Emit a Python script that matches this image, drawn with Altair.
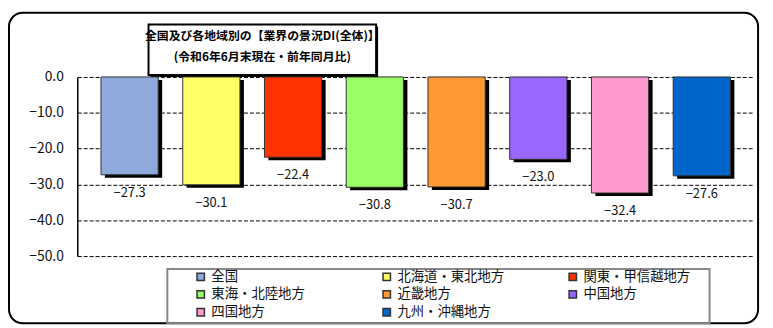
import altair as alt
import pandas as pd

regions = ["全国", "北海道・東北地方", "関東・甲信越地方", "東海・北陸地方",
           "近畿地方", "中国地方", "四国地方", "九州・沖縄地方"]
values = [-27.3, -30.1, -22.4, -30.8, -30.7, -23.0, -32.4, -27.6]
colors = ["#8EA9DB", "#FFFF66", "#FF3300", "#99FF66",
          "#FF9933", "#9966FF", "#FF99CC", "#0066CC"]
y_ticks = [0, -10, -20, -30, -40, -50]
title_lines = ["全国及び各地域別の【業界の景況DI(全体)】", "(令和6年6月末現在・前年同月比)"]

FONT = "Noto Sans CJK JP"
df = pd.DataFrame({"region": regions, "value": values})
one = pd.DataFrame({"k": [0]})

xenc = alt.X("region:N", sort=regions,
             scale=alt.Scale(paddingInner=0.3, paddingOuter=0.29), axis=None)
yenc = alt.Y("value:Q", scale=alt.Scale(domain=[-50, 0], nice=False),
             axis=alt.Axis(values=y_ticks, format=".1f", grid=True, gridDash=[4, 2],
                           gridColor="#000", gridWidth=1, ticks=False, domain=True,
                           domainColor="#000", domainWidth=1.5, labelFontSize=14,
                           labelColor="#111", labelPadding=14, labelFont=FONT, title=None))

outer = alt.Chart(one).mark_rect(fillOpacity=0, stroke="#000", strokeWidth=2,
                                 cornerRadius=14).encode(
    x=alt.value(-69), x2=alt.value(688), y=alt.value(-65), y2=alt.value(249))

title_shadow = alt.Chart(one).mark_rect(color="#000").encode(
    x=alt.value(74), x2=alt.value(304), y=alt.value(-51), y2=alt.value(0))
title_box = alt.Chart(one).mark_rect(fill="#fff", stroke="#000", strokeWidth=2).encode(
    x=alt.value(72), x2=alt.value(302), y=alt.value(-53), y2=alt.value(-2))
title_text = alt.Chart(one).mark_text(text=title_lines, font=FONT, fontSize=12,
                                      fontWeight="bold", color="#000", lineHeight=21,
                                      baseline="middle", align="center").encode(
    x=alt.value(187), y=alt.value(-41))

shadow = alt.Chart(df).mark_bar(color="#000", xOffset=4, yOffset=3).encode(x=xenc, y=yenc)
bars = alt.Chart(df).mark_bar(stroke="#333", strokeWidth=1).encode(
    x=xenc, y=yenc,
    color=alt.Color("region:N", scale=alt.Scale(domain=regions, range=colors),
                    legend=alt.Legend(orient="none", legendX=118, legendY=195, columns=3,
                                      direction="horizontal",
                                      gridAlign="all", columnPadding=62, rowPadding=3,
                                      symbolType="square", symbolSize=56,
                                      symbolStrokeColor="#333", symbolStrokeWidth=1.5,
                                      labelFontSize=13.5, labelFont=FONT, labelColor="#111",
                                      labelOffset=4, padding=0, title=None)))
labels = alt.Chart(df).mark_text(baseline="top", dy=12, fontSize=13, font=FONT,
                                 color="#111").encode(
    x=xenc, y=yenc, text=alt.Text("value:Q", format=".1f"))

legend_box = alt.Chart(one).mark_rect(fillOpacity=0, stroke="#888", strokeWidth=2).encode(
    x=alt.value(91), x2=alt.value(639), y=alt.value(194), y2=alt.value(249))

chart = alt.layer(outer, title_shadow, title_box, shadow, bars, labels, title_text,
                  legend_box).properties(
    width=684, height=181,
    autosize=alt.AutoSizeParams(type="none"),
    padding={"left": 70, "top": 68, "right": 11, "bottom": 71},
).configure_view(strokeWidth=0)

chart.save("out.html", embed_options={"renderer": "svg", "actions": False})
